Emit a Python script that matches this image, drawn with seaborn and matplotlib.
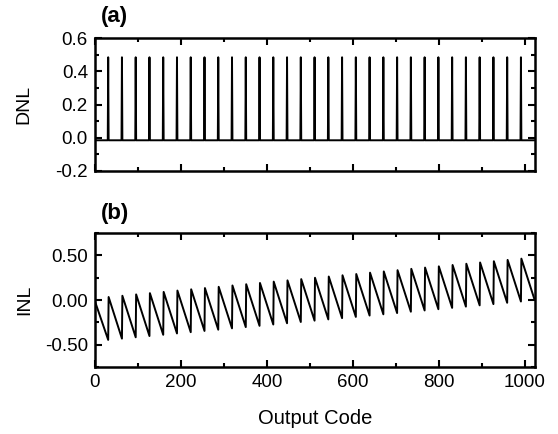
import numpy as np
import pandas as pd
import matplotlib
matplotlib.use("Agg")
import matplotlib.pyplot as plt
from matplotlib.ticker import MultipleLocator
import seaborn as sns

# codes where the DNL spikes / the INL sawtooth bottoms out
spike_codes = [31, 63, 95, 127, 159, 191, 223, 255, 287, 319, 351, 383, 415, 447, 479, 511,
               543, 575, 607, 639, 671, 703, 735, 767, 799, 831, 863, 895, 927, 959, 991]
peak_codes = [32, 64, 96, 128, 160, 192, 224, 256, 288, 320, 352, 384, 416, 448, 480, 512,
              544, 576, 608, 640, 672, 704, 736, 768, 800, 832, 864, 896, 928, 960, 992]

dnl_baseline = -0.015
dnl_spike = 0.485
n_codes = 1024

inl_start = -0.01
inl_end = 0.0
inl_troughs = [-0.445, -0.431, -0.416, -0.402, -0.388, -0.373, -0.359, -0.345, -0.331, -0.316,
               -0.302, -0.288, -0.273, -0.259, -0.245, -0.230, -0.216, -0.202, -0.188, -0.173,
               -0.159, -0.145, -0.130, -0.116, -0.102, -0.087, -0.073, -0.059, -0.045, -0.030,
               -0.016]
inl_peaks = [0.035, 0.049, 0.064, 0.078, 0.092, 0.107, 0.121, 0.135, 0.149, 0.164,
             0.178, 0.192, 0.207, 0.221, 0.235, 0.250, 0.264, 0.278, 0.292, 0.307,
             0.321, 0.335, 0.350, 0.364, 0.378, 0.393, 0.407, 0.421, 0.435, 0.450,
             0.464]

# DNL table: baseline everywhere, spike at every segment boundary
dnl = pd.DataFrame({"code": np.arange(n_codes), "dnl": dnl_baseline})
dnl.loc[dnl["code"].isin(spike_codes), "dnl"] = dnl_spike

# INL polyline vertices
inl_x = [0]
inl_y = [inl_start]
for tc, tv, pc, pv in zip(spike_codes, inl_troughs, peak_codes, inl_peaks):
    inl_x += [tc, pc]
    inl_y += [tv, pv]
inl_x.append(n_codes - 1)
inl_y.append(inl_end)
inl = pd.DataFrame({"code": inl_x, "inl": inl_y})

sns.set_style("ticks")
plt.rcParams["font.family"] = ["Liberation Sans", "DejaVu Sans"]
plt.rcParams["font.size"] = 13
for k in ("text.color", "axes.labelcolor", "xtick.color", "ytick.color", "axes.edgecolor"):
    plt.rcParams[k] = "black"

fig = plt.figure(figsize=(5.58, 4.34), dpi=100)
ax1 = fig.add_axes([0.170, 0.606, 0.789, 0.306])
ax2 = fig.add_axes([0.170, 0.154, 0.789, 0.309])

sns.lineplot(data=dnl, x="code", y="dnl", ax=ax1, color="black", lw=1.4, estimator=None)
sns.lineplot(data=inl, x="code", y="inl", ax=ax2, color="black", lw=1.4, estimator=None, sort=False)

ax1.set_ylim(-0.2, 0.6)
ax1.yaxis.set_major_locator(MultipleLocator(0.2))
ax1.yaxis.set_minor_locator(MultipleLocator(0.1))
ax1.yaxis.set_major_formatter(plt.FuncFormatter(lambda v, p: f"{v:.1f}"))
ax1.set_ylabel("DNL", fontsize=14)
ax1.set_xlabel("")
ax1.tick_params(labelbottom=False)

ax2.set_ylim(-0.75, 0.75)
ax2.yaxis.set_major_locator(MultipleLocator(0.5))
ax2.yaxis.set_minor_locator(MultipleLocator(0.25))
ax2.yaxis.set_major_formatter(plt.FuncFormatter(lambda v, p: f"{v:.2f}"))
ax2.set_ylabel("INL", fontsize=14)
ax2.set_xlabel("Output Code", fontsize=14.5, labelpad=13)

for ax in (ax1, ax2):
    ax.set_xlim(0, 1024)
    ax.xaxis.set_major_locator(MultipleLocator(200))
    ax.xaxis.set_minor_locator(MultipleLocator(100))
    ax.tick_params(which="both", direction="in", top=True, right=True, width=1.5,
                   labelsize=13.5, pad=5)
    ax.tick_params(which="major", length=5)
    ax.tick_params(which="minor", length=3)
    for s in ax.spines.values():
        s.set_linewidth(1.8)
    ax.yaxis.set_label_coords(-0.141, 0.5)

fig.text(0.180, 0.963, "(a)", fontsize=16, fontweight="bold", va="center")
fig.text(0.180, 0.509, "(b)", fontsize=16, fontweight="bold", va="center")

fig.savefig("out.png", dpi=100)
